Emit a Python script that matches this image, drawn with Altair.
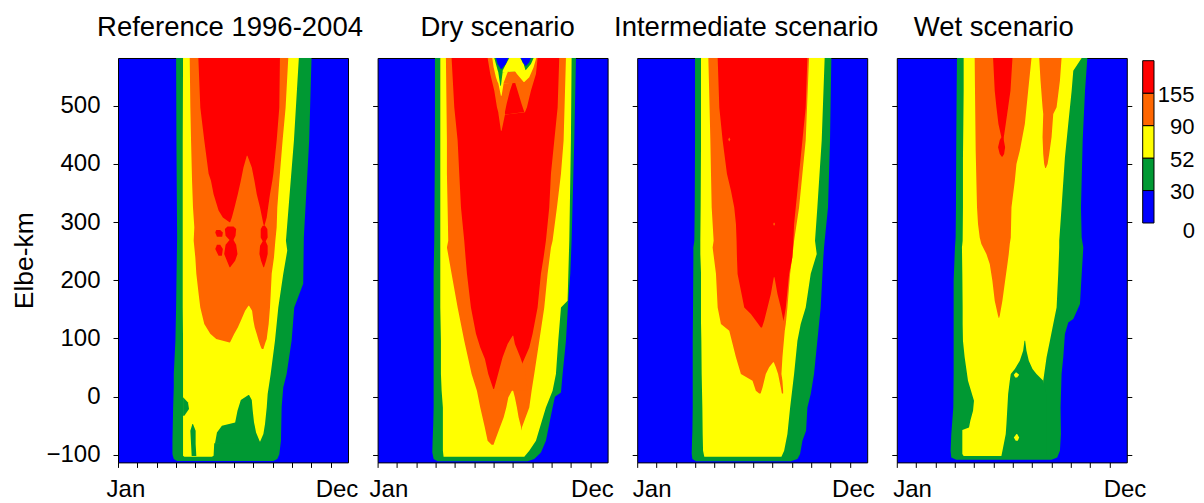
import altair as alt
import pandas as pd

# ---------------- chart values ----------------
LEVELS = [0, 30, 52, 90, 155]
COLORS = ["#0000ff", "#009933", "#ffff00", "#ff6600", "#ff0000"]
TITLES = ["Reference 1996-2004", "Dry scenario", "Intermediate scenario", "Wet scenario"]
TITLE_DX = [-3, 5, -6, -18]
KM_TICKS = [-100, 0, 100, 200, 300, 400, 500]
MONTH_TICKS = [0, 30.7, 61.4, 92.1, 122.8, 153.5, 184.2, 214.9, 245.6, 276.3, 307.0, 337.7]
JAN_LABEL_DAY = [11.7, 17.1, 23.0, 24.1]
DEC_LABEL_DAY = [346.8, 340.1, 342.3, 361.4]
KM_DOMAIN = [-113, 582]
DAY_DOMAIN = [0, 365]

# Each region: rows of (Elbe-km, first day, last day) of a contour band
# ---- Reference 1996-2004 ----
REF_GREEN = [(582, 92.2, 307.1), (440, 92.7, 303.4), (274, 93.8, 294.9), (194, 92.7, 293.9),
             (153, 92.2, 279.7), (96, 91.1, 275.5), (39, 88.5, 267.6), (16, 88.5, 262.3),
             (-18, 87.5, 259.7), (-76, 86.4, 258.6), (-99, 86.4, 256.0), (-107, 88.5, 252.8),
             (-110.5, 93.8, 246.5)]
REF_YELLOW = [(582, 103.2, 287.0), (440, 102.7, 279.2), (354, 102.7, 272.8), (268, 102.7, 266.5),
              (251, 102.7, 268.6), (211, 102.7, 262.3), (153, 102.7, 254.4), (96, 103.2, 249.1),
              (39, 103.2, 242.3), (4.4, 103.2, 237.5), (-18.5, 103.2, 236.0), (-47, 103.2, 233.3),
              (-64, 103.2, 230.7), (-77.5, 103.2, 225.4), (-80, 103.2, 152.7), (-101.6, 103.2, 151.7),
              (-103.3, 105.3, 149.1)]
REF_GREEN_MID = [(2.7, 207.0, 208.0), (-5.9, 194.9, 212.3), (-24.2, 189.6, 213.8), (-44.3, 185.9, 215.9),
                 (-50.0, 164.9, 217.0), (-61.5, 157.0, 219.1), (-81.0, 153.8, 226.5)]
REF_GREEN_L1 = [(-1.3, 103.2, 103.7), (-9.9, 103.2, 111.1), (-21.4, 103.2, 112.7), (-32.9, 103.2, 105.3)]
REF_GREEN_L2 = [(-47.2, 118.0, 119.0), (-58.6, 114.8, 123.2), (-81.6, 115.9, 123.2), (-102.2, 116.9, 124.3)]
REF_ORANGE = [(582, 113.8, 270.2), (497, 114.8, 266.0), (440, 115.9, 261.2), (371, 117.5, 256.0),
              (325, 119.0, 252.8), (291, 121.1, 251.8), (268, 120.1, 249.7), (239, 122.7, 247.5),
              (211, 124.3, 243.9), (176, 128.0, 242.3), (153, 130.6, 241.2), (125, 136.9, 239.1),
              (108, 146.4, 237.0), (99, 155.9, 236.0), (93.2, 177.0, 233.9), (89.3, 214.9, 232.8),
              (81.8, 228.6, 230.7)]
REF_YELLOW_WEDGE = [(156.3, 207.0, 208.0), (147.7, 201.7, 212.8), (130.5, 194.9, 214.9), (119.0, 190.1, 217.0),
                    (107.6, 184.3, 220.2), (96.1, 179.1, 223.3), (87.6, 174.9, 226.0), (79.0, 172.8, 229.1)]
REF_RED = [(582, 127.5, 257.0), (497, 130.6, 256.0), (440, 136.9, 251.8), (383, 143.8, 246.5),
           (371, 147.5, 244.9), (348, 151.7, 241.2), (320, 159.6, 237.5), (308, 166.4, 236.0),
           (299.5, 177.0, 233.9), (295.5, 214.9, 232.8), (290.9, 229.6, 231.7)]
REF_ORANGE_WEDGE = [(414, 204.4, 205.4), (394, 199.1, 212.3), (371, 194.9, 216.5), (348, 190.1, 220.2),
                    (325, 184.9, 225.4), (308, 180.7, 228.6), (296.6, 177.0, 230.7), (288, 172.8, 233.3)]
REF_RED_A = [(292.6, 173.8, 183.3), (288.0, 169.6, 187.5), (276.6, 170.7, 186.5), (269.1, 177.0, 183.3),
             (261.1, 170.7, 187.5), (245.1, 168.5, 189.6), (233.6, 172.8, 185.9), (222.2, 177.0, 178.0)]
REF_RED_B1 = [(286.3, 155.9, 162.2), (282.3, 154.3, 166.4), (274.9, 157.0, 165.4)]
REF_RED_B2 = [(261.1, 157.0, 162.2), (253.7, 154.3, 166.4), (242.2, 159.6, 164.9)]
REF_RED_C = [(293.8, 229.6, 233.3), (288.0, 226.5, 237.0), (273.7, 226.5, 237.5), (266.9, 229.6, 234.4),
             (259.4, 225.4, 237.5), (245.1, 224.4, 237.5), (233.6, 227.0, 234.9), (222.2, 230.7, 231.7)]

# ---- Dry scenario ----
DRY_GREEN = [(582, 91.0, 314.8), (440, 91.0, 312.1), (268, 89.9, 307.9), (211, 88.9, 305.8),
             (165, 88.9, 302.6), (96, 88.9, 298.9), (39, 88.9, 293.6), (7.3, 88.9, 291.0),
             (-0.2, 88.9, 281.4), (-18.5, 88.9, 277.7), (-47.2, 88.3, 272.4), (-75.8, 87.3, 267.1),
             (-95.9, 86.8, 259.2), (-107.3, 88.9, 248.6), (-111.0, 95.2, 238.1)]
DRY_YELLOW = [(582, 99.5, 307.9), (440, 99.5, 306.8), (268, 99.5, 304.2), (165, 99.5, 301.5),
              (153, 99.5, 291.0), (96, 100.5, 286.7), (39, 100.5, 283.0), (10.2, 101.6, 277.7),
              (-18.5, 103.6, 267.1), (-47.2, 103.6, 259.2), (-75.8, 103.6, 251.3), (-93.0, 103.6, 240.7),
              (-103.3, 104.7, 232.8)]
DRY_ORANGE = [(582, 108.4, 298.9), (440, 110.0, 295.2), (383, 110.0, 291.0), (325, 111.1, 284.6),
              (268, 112.1, 277.7), (256.5, 110.0, 275.1), (211, 117.4, 269.8), (153, 127.0, 264.5),
              (96, 137.5, 256.6), (39, 149.2, 248.6), (10.2, 157.6, 244.4), (-18.5, 162.9, 240.7),
              (-52, 170.0, 229.2), (-75.8, 174.6, 228.5), (-82.7, 180.9, 185.1)]
DRY_YELLOW_WEDGE = [(11.3, 213.7, 214.8), (-1.3, 207.4, 217.9), (-18.5, 204.2, 221.1), (-35.7, 200.0, 223.8),
                    (-55.7, 193.1, 228.5), (-75.8, 186.2, 232.8), (-87.3, 182.5, 235.4)]
DRY_RED = [(582, 117.4, 288.3), (497, 121.7, 285.7), (440, 127.0, 280.4), (383, 129.6, 275.1),
           (325, 132.3, 272.4), (268, 137.5, 267.1), (239, 139.6, 263.4), (211, 141.8, 259.2),
           (153, 148.1, 253.9), (108, 156.1, 246.0), (84.6, 162.9, 240.7), (64.6, 170.3, 232.8),
           (38.8, 175.6, 222.2), (13.0, 183.6, 185.2)]
DRY_ORANGE_WEDGE = [(104.7, 214.2, 215.3), (90.4, 206.3, 217.9), (67.5, 198.4, 226.4), (44.5, 192.6, 233.8),
                    (10.2, 184.1, 238.1)]
DRY_ORANGE_TOP = [(582, 174.6, 253.9), (554.5, 178.8, 251.3), (525.8, 185.2, 243.3), (497.2, 189.4, 237.0),
                  (488.6, 191.5, 233.8), (484.6, 192.0, 202.1), (457.1, 195.7, 196.8)]
DRY_RED_BUMP = [(544.2, 215.8, 216.9), (525.8, 210.0, 222.2), (502.9, 204.7, 228.5), (489.2, 202.1, 232.8),
                (484.7, 202.1, 202.3)]
DRY_YELLOW_TOP = [(582, 182.0, 251.8), (566.0, 184.1, 247.6), (548.8, 187.8, 240.7), (540.8, 190.4, 232.8),
                  (538.5, 191.5, 200.0), (517.3, 195.7, 196.8)]
DRY_ORANGE_BUMP = [(568.8, 211.1, 212.2), (554.5, 205.3, 221.1), (539.6, 200.0, 232.8), (538.6, 200.0, 200.2)]
DRY_GREEN_TOP = [(582, 185.2, 247.6), (571.7, 187.8, 243.3), (561.4, 190.4, 235.4), (557.4, 191.5, 198.4),
                 (534.4, 194.7, 195.7)]
DRY_YELLOW_BUMP = [(582, 209.0, 226.4), (571.7, 203.7, 231.7), (560.2, 198.4, 235.0), (557.5, 198.4, 198.6)]
DRY_BLUE_L = [(582, 187.8, 207.4), (571.7, 190.4, 203.7), (563.1, 195.7, 196.8)]
DRY_BLUE_R = [(582, 227.5, 243.3), (574.6, 230.1, 240.7), (568.8, 234.3, 235.9)]

# ---- Intermediate scenario ----
INT_GREEN = [(582, 91.8, 308.1), (440, 91.8, 306.0), (325, 91.3, 302.8), (268, 90.7, 297.5),
             (256.5, 89.1, 296.5), (239, 89.1, 295.4), (153, 88.6, 291.2), (96, 88.1, 285.9),
             (39, 88.1, 280.6), (4.4, 88.1, 275.4), (-18.5, 88.1, 270.1), (-58.6, 87.6, 268.0),
             (-75.8, 87.0, 262.2), (-98.7, 86.5, 258.5), (-107.3, 87.6, 254.3), (-111.0, 93.4, 243.7)]
INT_YELLOW = [(582, 101.3, 297.5), (440, 101.3, 292.8), (325, 100.7, 285.9), (268, 100.2, 282.2),
              (245, 100.2, 284.9), (211, 101.3, 275.4), (153, 101.3, 267.4), (125, 101.3, 259.5),
              (96, 101.8, 254.3), (39, 102.3, 249.0), (-18.5, 103.4, 242.7), (-64.3, 103.9, 238.4),
              (-93.0, 104.5, 233.2), (-103.3, 106.5, 228.9)]
INT_ORANGE = [(582, 112.9, 272.7), (440, 116.1, 267.4), (383, 117.1, 262.2), (325, 118.2, 256.9),
              (268, 121.3, 249.0), (256.5, 119.7, 247.9), (211, 125.0, 242.7), (153, 127.7, 238.4),
              (125, 132.9, 235.8), (113.3, 146.1, 234.2), (67.5, 156.7, 230.5), (38.8, 164.6, 228.9),
              (27.3, 183.0, 230.5), (10.2, 188.3, 231.6), (5.6, 193.6, 231.6)]
INT_YELLOW_WEDGE = [(58.9, 215.7, 216.8), (50.3, 209.4, 220.0), (38.8, 204.1, 223.6), (15.9, 198.9, 227.9),
                    (3.3, 195.2, 230.0)]
INT_RED = [(582, 127.7, 270.1), (497, 130.3, 267.4), (440, 135.6, 262.2), (383, 142.4, 256.9),
           (354, 148.8, 254.3), (325, 154.0, 251.6), (296.6, 156.7, 249.0), (268, 157.7, 247.9),
           (239, 158.3, 246.3), (210.7, 159.3, 241.1), (153.4, 169.9, 235.8), (141.9, 180.4, 234.2),
           (130.5, 188.3, 232.1), (119.0, 196.2, 206.8)]
INT_ORANGE_WEDGE = [(205.0, 216.8, 217.9), (176.3, 212.1, 222.6), (153.4, 206.8, 227.9), (130.5, 201.5, 232.1),
                    (116.2, 197.3, 233.2)]
INT_ORANGE_DOT1 = [(445, 145.6, 146.6), (442, 144.6, 147.6), (439, 145.6, 146.6)]
INT_ORANGE_DOT2 = [(299, 216.8, 217.8), (296.5, 215.8, 218.8), (294, 216.8, 217.8)]

# ---- Wet scenario ----
WET_GREEN = [(582, 95.5, 302.4), (525.8, 95.0, 298.7), (440, 94.4, 295.0), (325, 93.9, 292.3),
             (273.7, 93.4, 293.4), (256.5, 92.3, 296.0), (199.2, 90.2, 292.8), (159.1, 90.2, 290.7),
             (133.3, 90.2, 280.1), (127.6, 90.2, 272.1), (107.6, 90.2, 266.8), (67.5, 90.2, 264.2),
             (38.8, 90.2, 261.5), (-18.5, 89.7, 259.9), (-64.3, 86.5, 260.5), (-93.0, 85.4, 258.9),
             (-104.5, 86.5, 254.6), (-108.4, 94.4, 245.6)]
WET_YELLOW = [(582, 106.1, 293.4), (560.2, 106.1, 280.1), (525.8, 106.1, 277.5), (468.5, 105.6, 272.1),
              (411.2, 105.0, 266.8), (325.3, 105.0, 261.5), (268.0, 104.5, 257.8), (256.5, 103.4, 257.8),
              (210.7, 104.0, 256.2), (153.4, 104.5, 253.6), (124.7, 104.5, 248.3), (96.1, 105.0, 243.0),
              (67.5, 107.7, 237.7), (27.3, 113.0, 232.4), (-7.0, 122.5, 232.4), (-24.2, 121.0, 232.4),
              (-41.4, 116.7, 232.4), (-52.9, 114.6, 232.4), (-57.5, 104.0, 232.4), (-98.7, 104.0, 232.4),
              (-102.2, 106.1, 227.1)]
WET_GREEN_MID = [(96.1, 202.6, 203.7), (78.9, 200.5, 205.8), (61.7, 195.2, 209.5), (47.4, 187.3, 215.4),
                 (38.8, 180.9, 221.7), (27.3, 179.3, 232.4), (4.4, 176.7, 237.7), (-47.2, 174.0, 237.7),
                 (-64.3, 172.9, 237.7), (-87.3, 168.7, 237.7), (-102.2, 166.0, 237.7)]
WET_YELLOW_D1 = [(41.6, 188.8, 189.9), (37.6, 185.7, 194.2), (33.1, 187.8, 191.0)]
WET_YELLOW_D2 = [(-64.3, 189.9, 191.0), (-70.1, 185.7, 194.2), (-75.8, 188.8, 192.0)]
WET_ORANGE_L = [(582, 123.6, 213.8), (525.8, 124.1, 208.5), (468.5, 124.7, 203.2), (422.7, 125.2, 195.2),
                (399.8, 125.7, 189.9), (371.1, 126.3, 187.3), (325.3, 127.3, 182.0), (296.6, 128.9, 181.4),
                (273.7, 131.6, 180.9), (262.3, 134.2, 179.3), (245.1, 142.2, 177.7), (227.9, 147.5, 175.6),
                (199.2, 151.7, 171.9), (164.9, 155.4, 167.6), (139.1, 160.7, 163.4), (135.1, 161.8, 162.3)]
WET_ORANGE_R = [(582, 226.0, 261.5), (543.0, 228.1, 258.9), (497.2, 231.3, 253.6), (485.7, 232.4, 248.3),
                (445.6, 231.3, 245.6), (417.0, 232.4, 241.9), (399.8, 233.9, 239.3), (393.1, 235.5, 236.6)]
WET_RED = [(582, 152.8, 183.6), (525.8, 155.4, 180.4), (497.2, 158.1, 176.7), (468.5, 161.3, 172.9),
           (445.6, 166.0, 169.8), (441.0, 163.4, 169.8), (428.4, 160.7, 171.9), (417.0, 163.4, 170.3),
           (412.4, 166.6, 167.6)]

# drawing order per panel: (colour band index, region)
PANELS = [
    [(1, REF_GREEN), (2, REF_YELLOW), (1, REF_GREEN_MID), (1, REF_GREEN_L1), (1, REF_GREEN_L2),
     (3, REF_ORANGE), (2, REF_YELLOW_WEDGE), (4, REF_RED), (3, REF_ORANGE_WEDGE),
     (4, REF_RED_A), (4, REF_RED_B1), (4, REF_RED_B2), (4, REF_RED_C)],
    [(1, DRY_GREEN), (2, DRY_YELLOW), (3, DRY_ORANGE), (2, DRY_YELLOW_WEDGE), (4, DRY_RED),
     (3, DRY_ORANGE_WEDGE), (3, DRY_ORANGE_TOP), (4, DRY_RED_BUMP), (2, DRY_YELLOW_TOP),
     (3, DRY_ORANGE_BUMP), (1, DRY_GREEN_TOP), (2, DRY_YELLOW_BUMP), (0, DRY_BLUE_L), (0, DRY_BLUE_R)],
    [(1, INT_GREEN), (2, INT_YELLOW), (3, INT_ORANGE), (2, INT_YELLOW_WEDGE), (4, INT_RED),
     (3, INT_ORANGE_WEDGE), (3, INT_ORANGE_DOT1), (3, INT_ORANGE_DOT2)],
    [(1, WET_GREEN), (2, WET_YELLOW), (1, WET_GREEN_MID), (2, WET_YELLOW_D1), (2, WET_YELLOW_D2),
     (3, WET_ORANGE_L), (3, WET_ORANGE_R), (4, WET_RED)],
]

FONT = "Liberation Sans"
PANEL_W = 230
PANEL_H = 404.4
GAP = 29.6


def make_panel(i):
    xs = alt.Scale(domain=DAY_DOMAIN, nice=False, zero=False)
    ys = alt.Scale(domain=KM_DOMAIN, nice=False, zero=False)
    jan, dec = JAN_LABEL_DAY[i], DEC_LABEL_DAY[i]
    is_jan = f"abs(datum.value - {jan}) < 0.01"
    is_dec = f"abs(datum.value - {dec}) < 0.01"
    xaxis = alt.Axis(values=MONTH_TICKS + [jan, dec], title=None, grid=False, domain=False,
                     tickSize=5, tickColor="black",
                     tickOpacity={"condition": {"test": f"{is_jan} || {is_dec}", "value": 0}, "value": 1},
                     labelExpr=f"{is_jan} ? 'Jan' : ({is_dec} ? 'Dec' : '')",
                     labelFontSize=24, labelPadding=10, labelOverlap=False, labelFlush=False,
                     labelAlign="center")
    if i == 0:
        yaxis = alt.Axis(values=KM_TICKS, grid=False, domain=False, tickSize=5, labelFontSize=24,
                         labelPadding=13, title="Elbe-km", titleFontSize=26.5, titleFontWeight="normal",
                         titlePadding=7)
    else:
        yaxis = alt.Axis(values=KM_TICKS, grid=False, domain=False, tickSize=5, labels=False, title=None)
    layers = []
    for band, rows in PANELS[i]:
        df = pd.DataFrame(rows, columns=["km", "start", "end"])
        layers.append(
            alt.Chart(df).mark_area(orient="horizontal", color=COLORS[band], clip=True).encode(
                y=alt.Y("km:Q", scale=ys, axis=yaxis),
                x=alt.X("start:Q", scale=xs, axis=xaxis),
                x2="end:Q",
            )
        )
    ch = alt.layer(*layers)
    if i == 3:
        df = pd.DataFrame(PANELS[i][0][1], columns=["km", "start", "end"])
        right = alt.Chart(df).mark_area(orient="horizontal", opacity=0, clip=True).encode(
            y=alt.Y("km:Q", scale=ys,
                    axis=alt.Axis(orient="right", values=KM_TICKS, labels=False, tickSize=5,
                                  grid=False, domain=False, title=None)),
            x=alt.X("start:Q", scale=xs, axis=xaxis),
            x2="end:Q",
        )
        ch = alt.layer(ch, right).resolve_axis(y="independent")
    ch = ch.properties(
        width=PANEL_W, height=PANEL_H,
        title=alt.TitleParams(TITLES[i], fontSize=27.5, font=FONT, fontWeight="normal", color="black",
                              frame="group", anchor="middle", dx=TITLE_DX[i], offset=16),
        view=alt.ViewBackground(fill=COLORS[0], stroke="black", strokeWidth=1),
    )
    return ch


leg_df = pd.DataFrame({"lo": list(range(5)), "hi": list(range(1, 6)), "fill": COLORS})
label_expr = "[" + ",".join(f"'{v}'" for v in LEVELS) + "][datum.value]"
legend = alt.Chart(leg_df).mark_rect(stroke="black", strokeWidth=1).encode(
    x=alt.value(-13.7), x2=alt.value(-2.4),
    y=alt.Y("lo:Q", scale=alt.Scale(domain=[-7.375, 5.083], nice=False, zero=False),
            axis=alt.Axis(orient="right", values=[0, 1, 2, 3, 4], labelExpr=label_expr, ticks=False,
                          tickSize=0, domain=False, grid=False, title=None, labelFontSize=22,
                          labelAlign="right", labelBaseline="middle",
                          labelPadding={"condition": {"test": "datum.value === 0", "value": 37}, "value": 36.6},
                          labelOffset={"condition": {"test": "datum.value === 0", "value": 8}, "value": 1})),
    y2="hi:Q",
    color=alt.Color("fill:N", scale=None),
).properties(width=1, height=PANEL_H, view=alt.ViewBackground(stroke="transparent"))

chart = alt.hconcat(
    make_panel(0), make_panel(1), make_panel(2), make_panel(3), legend,
    spacing=GAP, bounds="flush",
).properties(
    padding={"left": 3, "top": 6, "right": 0, "bottom": 0}
).configure(font=FONT).configure_axis(
    labelColor="black", tickColor="black", titleColor="black", labelFont=FONT, titleFont=FONT
).configure_view(stroke="transparent")

chart.save("out.html", embed_options={"renderer": "svg", "actions": False})
